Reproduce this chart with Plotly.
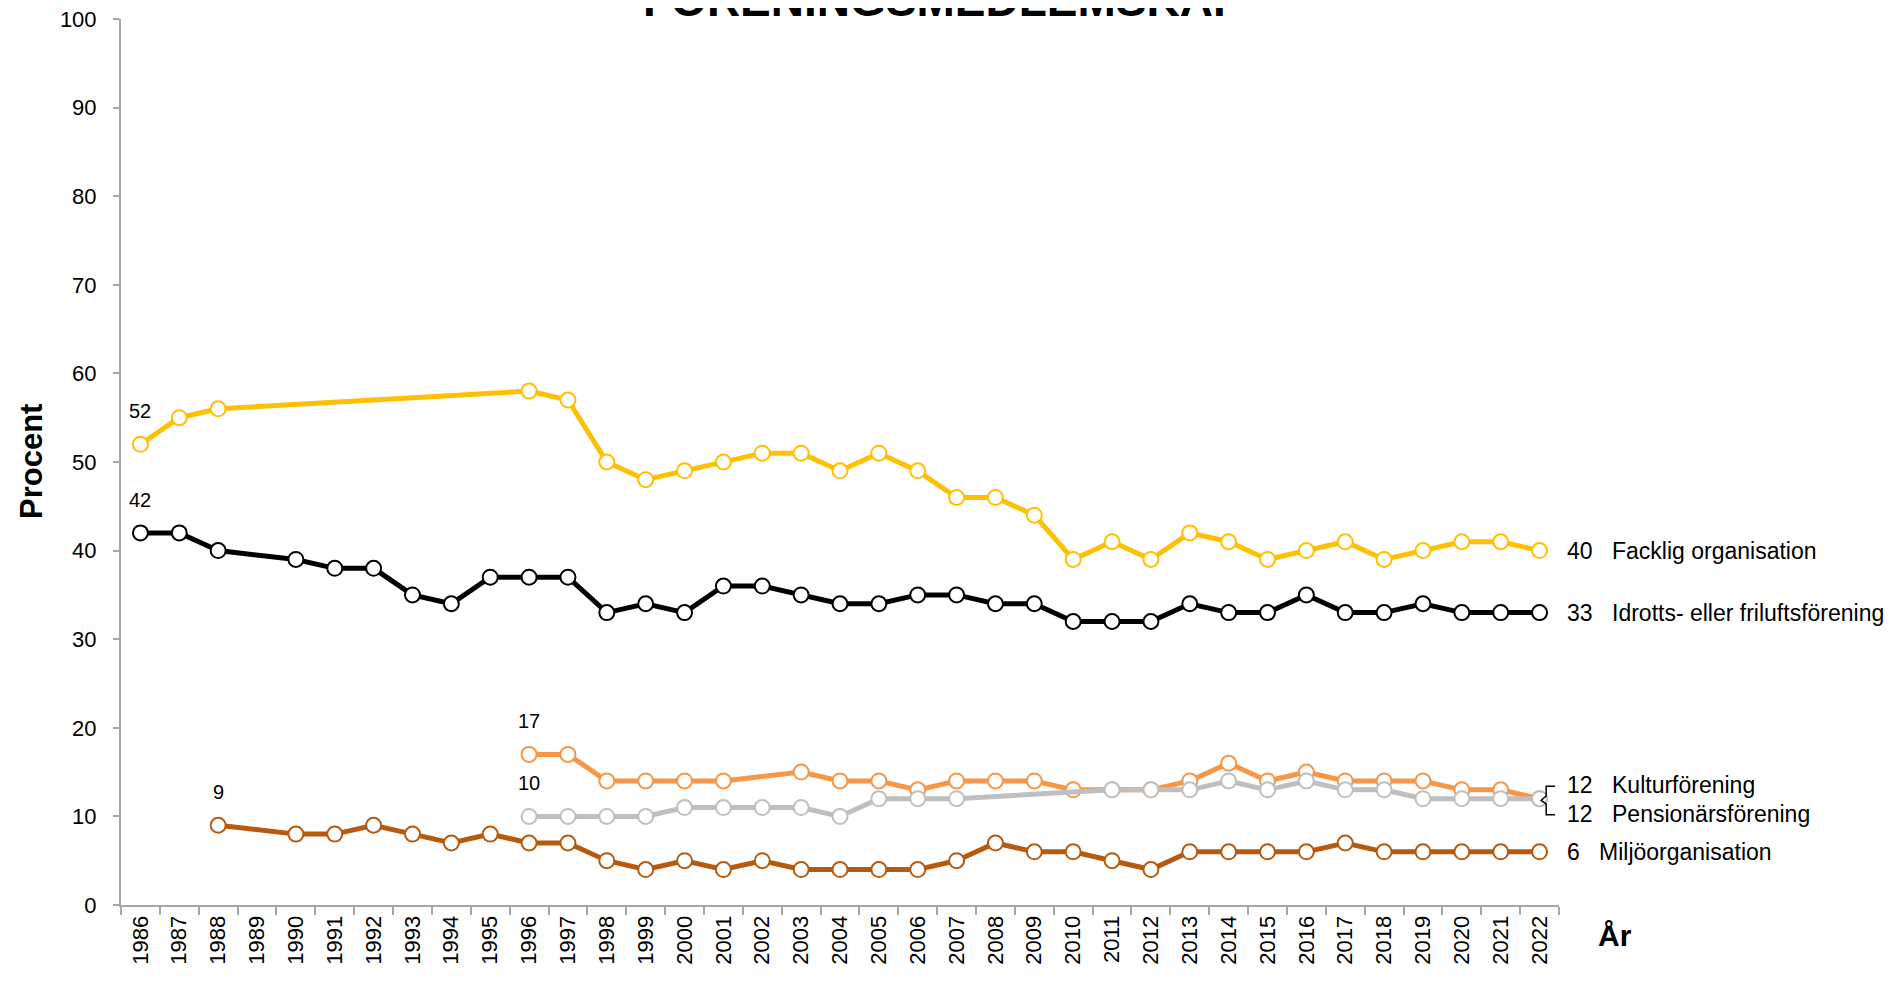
import plotly.graph_objects as go

years = list(range(1986, 2023))

def series(d):
    return [d.get(y) for y in years]

facklig = {1986: 52, 1987: 55, 1988: 56, 1996: 58, 1997: 57, 1998: 50, 1999: 48, 2000: 49,
           2001: 50, 2002: 51, 2003: 51, 2004: 49, 2005: 51, 2006: 49, 2007: 46, 2008: 46,
           2009: 44, 2010: 39, 2011: 41, 2012: 39, 2013: 42, 2014: 41, 2015: 39, 2016: 40,
           2017: 41, 2018: 39, 2019: 40, 2020: 41, 2021: 41, 2022: 40}
idrott = {1986: 42, 1987: 42, 1988: 40, 1990: 39, 1991: 38, 1992: 38, 1993: 35, 1994: 34,
          1995: 37, 1996: 37, 1997: 37, 1998: 33, 1999: 34, 2000: 33, 2001: 36, 2002: 36,
          2003: 35, 2004: 34, 2005: 34, 2006: 35, 2007: 35, 2008: 34, 2009: 34, 2010: 32,
          2011: 32, 2012: 32, 2013: 34, 2014: 33, 2015: 33, 2016: 35, 2017: 33, 2018: 33,
          2019: 34, 2020: 33, 2021: 33, 2022: 33}
kultur = {1996: 17, 1997: 17, 1998: 14, 1999: 14, 2000: 14, 2001: 14, 2003: 15, 2004: 14,
          2005: 14, 2006: 13, 2007: 14, 2008: 14, 2009: 14, 2010: 13, 2011: 13, 2012: 13,
          2013: 14, 2014: 16, 2015: 14, 2016: 15, 2017: 14, 2018: 14, 2019: 14, 2020: 13,
          2021: 13, 2022: 12}
pension = {1996: 10, 1997: 10, 1998: 10, 1999: 10, 2000: 11, 2001: 11, 2002: 11, 2003: 11,
           2004: 10, 2005: 12, 2006: 12, 2007: 12, 2011: 13, 2012: 13, 2013: 13, 2014: 14,
           2015: 13, 2016: 14, 2017: 13, 2018: 13, 2019: 12, 2020: 12, 2021: 12, 2022: 12}
miljo = {1988: 9, 1990: 8, 1991: 8, 1992: 9, 1993: 8, 1994: 7, 1995: 8, 1996: 7, 1997: 7,
         1998: 5, 1999: 4, 2000: 5, 2001: 4, 2002: 5, 2003: 4, 2004: 4, 2005: 4, 2006: 4,
         2007: 5, 2008: 7, 2009: 6, 2010: 6, 2011: 5, 2012: 4, 2013: 6, 2014: 6, 2015: 6,
         2016: 6, 2017: 7, 2018: 6, 2019: 6, 2020: 6, 2021: 6, 2022: 6}

names = ["Facklig organisation", "Idrotts- eller friluftsförening", "Kulturförening",
         "Pensionärsförening", "Miljöorganisation"]
data = [facklig, idrott, kultur, pension, miljo]
colors = ["#FFC000", "#000000", "#F79646", "#BFBFBF", "#B85A0E"]
order = [2, 3, 4, 1, 0]  # drawing order

ARIAL = "Liberation Sans, Arial"

fig = go.Figure()
for i in order:
    fig.add_trace(go.Scatter(
        x=years, y=series(data[i]), name=names[i], mode="lines+markers",
        connectgaps=True,
        line=dict(color=colors[i], width=5),
        marker=dict(symbol="circle", size=15, color="white",
                    line=dict(color=colors[i], width=2)),
        showlegend=False, hoverinfo="x+y+name"))

annotations = []
# start labels
for i in range(5):
    d = data[i]
    y0 = min(d.keys())
    annotations.append(dict(x=y0, y=d[y0], xref="x", yref="y", text=str(d[y0]),
                            showarrow=False, yshift=33,
                            font=dict(family=ARIAL, size=20, color="#000000")))

# end labels
end_y_shift = [0, 0, 14, -15, 0]
name_off = [45, 45, 45, 45, 32]
for i in range(5):
    d = data[i]
    v = d[2022]
    annotations.append(dict(x=2022, y=v, xref="x", yref="y", text=str(v), showarrow=False,
                            xanchor="left", xshift=25, yshift=end_y_shift[i],
                            font=dict(family=ARIAL, size=23, color="#000000")))
    annotations.append(dict(x=2022, y=v, xref="x", yref="y", text=names[i], showarrow=False,
                            xanchor="left", xshift=25 + name_off[i], yshift=end_y_shift[i],
                            font=dict(family=ARIAL, size=23, color="#000000")))

# title (partly cut at top of page)
annotations.append(dict(x=0.572, y=1, xref="paper", yref="paper", yanchor="bottom",
                        text="<b>FÖRENINGSMEDLEMSKAP</b>", showarrow=False, yshift=-9,
                        xanchor="center",
                        font=dict(family=ARIAL, size=46, color="#000000")))
# axis titles
annotations.append(dict(x=1, y=0, xref="paper", yref="paper", text="<b>År</b>",
                        showarrow=False, xanchor="left", yanchor="middle",
                        xshift=37, yshift=-30,
                        font=dict(family=ARIAL, size=30, color="#000000")))
annotations.append(dict(x=0, y=0.5, xref="paper", yref="paper", text="<b>Procent</b>",
                        showarrow=False, textangle=-90, xanchor="center", yanchor="middle",
                        xshift=-90, yshift=0,
                        font=dict(family=ARIAL, size=31, color="#000000")))

# bracket joining the two 12-labels
bx = 2022
k = kultur[2022]
shapes = [dict(type="path", xref="x", yref="y",
               path=(f"M {bx + 0.40},{k + 1.4} L {bx + 0.17},{k + 1.4} L {bx + 0.17},{k + 0.3} "
                     f"L {bx + 0.04},{k - 0.2} L {bx + 0.17},{k - 0.6} L {bx + 0.17},{k - 1.8} "
                     f"L {bx + 0.40},{k - 1.8}"),
               line=dict(color="#000000", width=1.5))]

fig.update_layout(
    width=1898, height=984,
    margin=dict(l=113, r=347, t=11, b=87, autoexpand=False),
    paper_bgcolor="white", plot_bgcolor="white",
    annotations=annotations, shapes=shapes,
    xaxis=dict(range=[1985.5, 2022.5], tickmode="array", tickvals=years,
               ticktext=[str(y) for y in years], tickangle=-90, ticks="",
               automargin=False, ticklabeloverflow="allow",
               showgrid=False, zeroline=False, showline=True, linecolor="#A6A6A6",
               linewidth=2, tickfont=dict(family=ARIAL, size=22, color="#000000"),
               minor=dict(ticks="outside", tick0=1985.5, dtick=1, ticklen=8,
                          tickcolor="#A6A6A6", tickwidth=1.5, showgrid=False)),
    yaxis=dict(range=[0, 100], tickmode="linear", tick0=0, dtick=10, ticks="outside",
               automargin=False, ticklabelstandoff=12, ticklabeloverflow="allow",
               ticklen=6, tickcolor="#A6A6A6", tickwidth=1.5, showgrid=False,
               zeroline=False, showline=True, linecolor="#A6A6A6", linewidth=2,
               tickfont=dict(family=ARIAL, size=22, color="#000000")),
)

fig.write_html("out.html")
